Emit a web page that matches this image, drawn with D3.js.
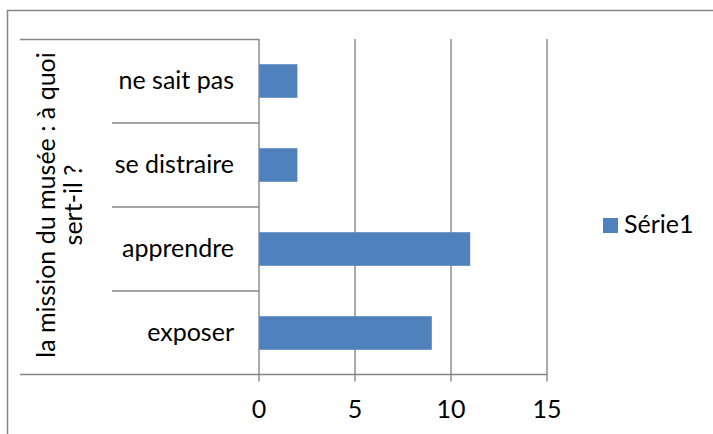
<!DOCTYPE html>
<html>
<head>
<meta charset="utf-8">
<script src="https://cdn.jsdelivr.net/npm/d3@7"></script>
<title>mission du musée</title>
<style>
  body { margin: 0; background: #fff; }
  text { font-family: Lato, "Open Sans", sans-serif; fill: #000; }
</style>
</head>
<body>
<svg width="713" height="434" id="mainsvg"></svg>
<script>
  // data
  const categories = ["ne sait pas", "se distraire", "apprendre", "exposer"];
  const values = [2, 2, 11, 9];
  const ticks = [0, 5, 10, 15];
  const seriesName = "Série1";
  const axisTitle = ["la mission du musée : à quoi", "sert-il ?"];

  const svg = d3.select("#mainsvg");
  const grey = "#868686";
  const blue = "#4f81bd";
  const fs = 25;

  // outer border (cropped on right and bottom)
  svg.append("rect")
    .attr("x", 7.5).attr("y", 10.5)
    .attr("width", 800).attr("height", 600)
    .attr("fill", "none").attr("stroke", grey).attr("stroke-width", 1.5);

  const x = d3.scaleLinear().domain([0, 15]).range([259, 547]);
  const y = d3.scaleBand().domain(categories).range([39, 375])
    .paddingInner(0.6).paddingOuter(0.3);

  // gridlines
  svg.selectAll(".grid").data(ticks.slice(1)).join("line")
    .attr("class", "grid")
    .attr("x1", d => x(d)).attr("x2", d => x(d))
    .attr("y1", 39).attr("y2", 375)
    .attr("stroke", grey).attr("stroke-width", 1.4);

  // bars
  svg.selectAll(".bar").data(values).join("rect")
    .attr("class", "bar")
    .attr("x", x(0))
    .attr("y", (d, i) => y(categories[i]))
    .attr("width", d => x(d) - x(0))
    .attr("height", y.bandwidth())
    .attr("fill", blue);

  // value axis
  const xAxis = svg.append("g").attr("transform", "translate(0,374.5)");
  xAxis.append("line").attr("x1", 20).attr("x2", x(15))
    .attr("stroke", grey).attr("stroke-width", 1.4);
  xAxis.selectAll(".tick").data(ticks).join("line")
    .attr("x1", d => x(d)).attr("x2", d => x(d))
    .attr("y1", 0).attr("y2", 7)
    .attr("stroke", grey).attr("stroke-width", 1.4);
  xAxis.selectAll(".lab").data(ticks).join("text")
    .attr("x", d => x(d)).attr("y", 43)
    .attr("text-anchor", "middle")
    .style("font-size", fs + "px")
    .text(d => d);

  // category axis
  svg.append("line").attr("x1", x(0)).attr("x2", x(0))
    .attr("y1", 39).attr("y2", 375)
    .attr("stroke", grey).attr("stroke-width", 1.4);
  svg.append("line").attr("x1", 20).attr("x2", x(0))
    .attr("y1", 39.5).attr("y2", 39.5)
    .attr("stroke", grey).attr("stroke-width", 1.4);
  const step = y.step();
  svg.selectAll(".sep").data(categories.slice(1)).join("line")
    .attr("class", "sep")
    .attr("x1", 112).attr("x2", x(0))
    .attr("y1", d => y(d) - (step - y.bandwidth()) / 2)
    .attr("y2", d => y(d) - (step - y.bandwidth()) / 2)
    .attr("stroke", grey).attr("stroke-width", 1.4);

  svg.selectAll(".cat").data(categories).join("text")
    .attr("class", "cat")
    .attr("x", 234)
    .attr("y", d => y(d) + y.bandwidth() / 2 + 8)
    .attr("text-anchor", "end")
    .style("font-size", fs + "px")
    .text(d => d);

  // rotated axis title
  const title = svg.append("text")
    .attr("transform", "translate(0,205) rotate(-90)")
    .attr("text-anchor", "middle")
    .style("font-size", fs + "px");
  title.selectAll("tspan").data(axisTitle).join("tspan")
    .attr("x", 0)
    .attr("y", (d, i) => 55 + i * 27)
    .text(d => d);

  // legend
  const legend = svg.append("g").attr("transform", "translate(603,218)");
  legend.append("rect").attr("width", 15).attr("height", 15).attr("fill", blue);
  legend.append("text").attr("x", 21).attr("y", 15)
    .style("font-size", fs + "px").text(seriesName);
</script>
</body>
</html>
